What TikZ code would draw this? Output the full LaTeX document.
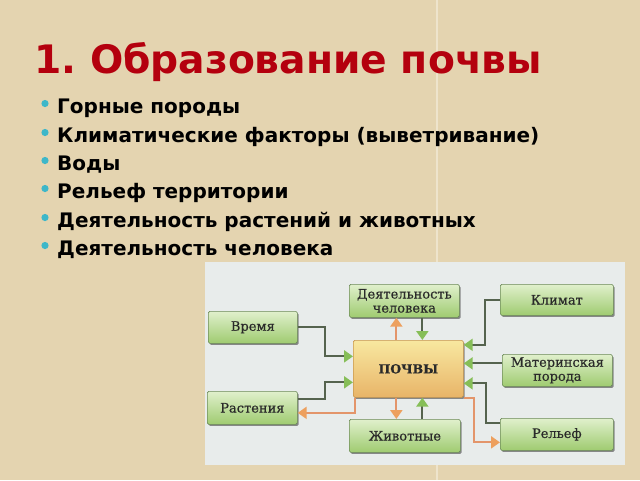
\documentclass[tikz,border=0pt]{standalone}
\usepackage{fontspec}
\setmainfont{DejaVu Sans}
\newfontfamily\boxfont[FakeBold=0.5]{DejaVu Serif}
\usetikzlibrary{arrows.meta,shadows,calc}
\definecolor{parch}{HTML}{E4D4B0}
\definecolor{seam}{HTML}{EEE4CC}
\definecolor{panel}{HTML}{E8ECEB}
\definecolor{titlered}{HTML}{B4000E}
\definecolor{bulletc}{HTML}{3DB7C9}
\definecolor{gtop}{HTML}{E0F0CC}
\definecolor{gbot}{HTML}{9FCB70}
\definecolor{gedge}{HTML}{6C8A58}
\definecolor{ytop}{HTML}{F8E8A0}
\definecolor{ybot}{HTML}{E8B468}
\definecolor{yedge}{HTML}{C8964C}
\definecolor{dline}{HTML}{55634E}
\definecolor{agreen}{HTML}{86BE58}
\definecolor{oline}{HTML}{E3956A}
\definecolor{aorange}{HTML}{EDA05E}
\definecolor{btext}{HTML}{2A2A2A}
\frenchspacing
\begin{document}
\begin{tikzpicture}[x=1pt,y=-1pt,
  gbox/.style={draw=gedge, line width=0.7pt, rounded corners=1.5pt,
    top color=gtop, bottom color=gbot, anchor=north west, align=center,
    inner sep=1pt, text=btext, font=\boxfont\fontsize{13}{14}\selectfont,
    drop shadow={shadow xshift=1.3pt, shadow yshift=-1.6pt, fill=black!60, opacity=0.75}},
  ybox/.style={gbox, draw=yedge, top color=ytop, bottom color=ybot,
    font=\boxfont\bfseries\fontsize{12.5}{15}\selectfont},
  darrow/.style={draw=dline, line width=2.2pt,
    -{Triangle[length=9pt,width=12pt,color=agreen,fill=agreen]}},
  oarrow/.style={draw=oline, line width=2.2pt,
    -{Triangle[length=9pt,width=12pt,color=aorange,fill=aorange]}},
  btxt/.style={anchor=base west, inner sep=0pt, font=\bfseries\fontsize{20}{22}\selectfont},
]
\useasboundingbox (0,0) rectangle (640,480);
\fill[parch] (0,0) rectangle (640,480);
\draw[seam, line width=1.5pt] (437,0) -- (437,480);

% title
\node[anchor=base west, inner sep=0pt, text=titlered,
  font=\bfseries\fontsize{39.2}{44}\selectfont] (title) at (34,73) {1. Образование почвы};

% bullets
\foreach \yy/\nm/\tx in {113/b1/Горные породы,
  142/b2/Климатические факторы (выветривание),
  170/b3/Воды,
  198/b4/Рельеф территории,
  227/b5/Деятельность растений и животных,
  255/b6/Деятельность человека}{
  \fill[bulletc] (45,\yy-9.5) circle (3.6);
  \node[btxt] (\nm) at (57,\yy) {\tx};
}

% diagram panel
\fill[panel] (205,262) rectangle (625,465);

\node[gbox, minimum width=89pt, minimum height=32pt] (vremya) at (208,311) {Время};
\node[gbox, minimum width=110pt, minimum height=33pt] (chel) at (349,284) {Деятельность\\человека};
\node[gbox, minimum width=113pt, minimum height=31pt] (klimat) at (500,284) {Климат};
\node[ybox, minimum width=110pt, minimum height=57pt] (pochvy) at (353,340) {ПОЧВЫ};
\node[gbox, minimum width=110pt, minimum height=32pt] (mat) at (502,354) {Материнская\\порода};
\node[gbox, minimum width=90pt, minimum height=33pt] (rast) at (207,391) {Растения};
\node[gbox, minimum width=111pt, minimum height=33pt] (zhiv) at (349,419) {Животные};
\node[gbox, minimum width=113pt, minimum height=32pt] (relef) at (500,418) {Рельеф};

% connectors
\draw[darrow] (vremya.east) -- ++(27,0) |- ([yshift=12.5pt]pochvy.west);
\draw[darrow] ([yshift=9pt]rast.east) -- ++(27,0) |- ([yshift=-13.5pt]pochvy.west);
\draw[oarrow] ([xshift=2pt]pochvy.south west) |- ([yshift=-5pt]rast.east);
\draw[oarrow] ([xshift=-12pt]pochvy.north) -- ([xshift=-12pt]pochvy.north |- chel.south);
\draw[darrow] ([xshift=14pt]pochvy.north |- chel.south) -- ([xshift=14pt]pochvy.north);
\draw[oarrow] ([xshift=-12pt]pochvy.south) -- ([xshift=-12pt]pochvy.south |- zhiv.north);
\draw[darrow] ([xshift=14pt]pochvy.south |- zhiv.north) -- ([xshift=14pt]pochvy.south);
\draw[darrow] (klimat.west) -- ++(-15,0) |- ([yshift=24pt]pochvy.east);
\draw[darrow] ([yshift=7pt]mat.west) -- ([yshift=7pt]mat.west -| pochvy.east);
\draw[darrow] ([yshift=11pt]relef.west) -- ++(-14,0) |- ([yshift=-14.5pt]pochvy.east);
\draw[oarrow] (pochvy.south east) -- ++(10,0) |- ([yshift=-8pt]relef.west);
\end{tikzpicture}
\end{document}
